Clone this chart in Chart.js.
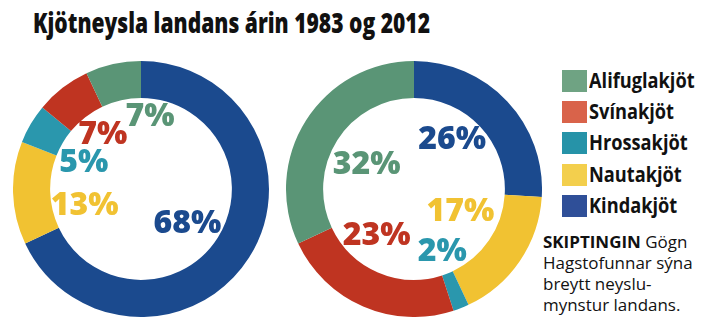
<!DOCTYPE html>
<html lang="is">
<head>
    <meta charset="UTF-8">
    <title>Kjötneysla landans árin 1983 og 2012</title>
    <script src="https://cdn.jsdelivr.net/npm/chart.js"></script>
    <style>
        html, body { margin: 0; padding: 0; background: #fff; }
        body { width: 713px; height: 334px; position: relative; overflow: hidden; font-family: "Open Sans", sans-serif; color: #111; }
        .fit { position: absolute; white-space: nowrap; transform-origin: 0 0; }
        #title { left: 33px; top: 8px; font-size: 28px; line-height: 28px; font-weight: 800; }
        .chart-box { position: absolute; top: 61px; width: 256px; height: 256px; }
        #chart1983 { left: 13px; }
        #chart2012 { left: 286px; }
        .legend-item { position: absolute; left: 562px; height: 22px; }
        .legend-item .swatch { position: absolute; left: 0; top: 0; width: 25px; height: 22px; }
        .legend-item .label { left: 27px; top: -6px; font-size: 22px; line-height: 30px; font-weight: 700; }
        #note { left: 543px; top: 232px; font-size: 15.5px; line-height: 21px; }
        #note b { font-weight: 700; }
    </style>
</head>
<body>
    <div id="title" class="fit">Kjötneysla landans árin 1983 og 2012</div>

    <canvas id="chart1983" class="chart-box" width="256" height="256"></canvas>
    <canvas id="chart2012" class="chart-box" width="256" height="256"></canvas>

    <div id="legend"></div>

    <div id="note" class="fit"><b>SKIPTINGIN</b> Gögn<br>Hagstofunnar sýna<br>breytt neyslu-<br>mynstur landans.</div>

    <script>
    // Flokkar í sömu röð og sneiðarnar, réttsælis frá toppi
    const categories = ['Kindakjöt', 'Nautakjöt', 'Hrossakjöt', 'Svínakjöt', 'Alifuglakjöt'];
    const share1983 = [68, 13, 5, 7, 7];
    const share2012 = [26, 17, 2, 23, 32];

    const sliceColors = ['#1b4a8e', '#f1c232', '#2a97ad', '#bf3421', '#5a9576'];
    const legendColors = ['#2f4f98', '#f3cf4d', '#2693a8', '#d9634a', '#6fa383'];

    // Staðsetning prósentutalna miðað við miðju, í einingum innri radíuss
    const labelPos1983 = [[0.51, 0.36], [-0.62, 0.16], [-0.63, -0.31], [-0.42, -0.62], [0.10, -0.82]];
    const labelPos2012 = [[0.42, -0.57], [0.51, 0.23], [0.31, 0.67], [-0.41, 0.49], [-0.52, -0.29]];

    // Teiknar prósentutölurnar inni í hringnum
    const pctLabels = {
        id: 'pctLabels',
        afterDraw(chart, args, opts) {
            const arc = chart.getDatasetMeta(0).data[0];
            const r = arc.innerRadius;
            const ctx = chart.ctx;
            ctx.save();
            ctx.font = '800 32px "Open Sans"';
            ctx.textAlign = 'center';
            ctx.textBaseline = 'alphabetic';
            chart.data.datasets[0].data.forEach((v, i) => {
                const p = opts.positions[i];
                ctx.fillStyle = sliceColors[i];
                ctx.fillText(v + '%', arc.x + p[0] * r, arc.y + p[1] * r + 11.5);
            });
            ctx.restore();
        }
    };

    function makeDonut(id, values, positions) {
        return new Chart(document.getElementById(id), {
            type: 'doughnut',
            data: {
                labels: categories,
                datasets: [{
                    data: values,
                    backgroundColor: sliceColors,
                    borderWidth: 0
                }]
            },
            options: {
                responsive: false,
                animation: false,
                devicePixelRatio: 1,
                cutout: '71%',
                layout: { padding: 0 },
                plugins: {
                    legend: { display: false },
                    tooltip: { enabled: false },
                    pctLabels: { positions: positions }
                }
            },
            plugins: [pctLabels]
        });
    }

    // Skýringar, sama röð og í blaðinu (alifuglar efst)
    function buildLegend() {
        const legend = document.getElementById('legend');
        const order = [4, 3, 2, 1, 0];
        order.forEach((idx, row) => {
            const item = document.createElement('div');
            item.className = 'legend-item';
            item.style.top = (70 + row * 31.2) + 'px';
            item.innerHTML = '<div class="swatch" style="background:' + legendColors[idx] + '"></div>' +
                '<div class="label fit">' + categories[idx] + '</div>';
            legend.appendChild(item);
        });
    }

    // Þjappar texta lárétt svo hann nái tiltekinni breidd
    function squeeze(el, width) {
        const s = width / el.offsetWidth;
        el.style.transform = 'scaleX(' + s + ')';
        return s;
    }

    function squeezeAll(els, refEl, width) {
        const s = width / refEl.offsetWidth;
        els.forEach(el => el.style.transform = 'scaleX(' + s + ')');
    }

    buildLegend();
    squeeze(document.getElementById('title'), 397);
    const legendLabels = Array.from(document.querySelectorAll('.legend-item .label'));
    squeezeAll(legendLabels, legendLabels[0], 106);
    squeeze(document.getElementById('note'), 150);

    makeDonut('chart1983', share1983, labelPos1983);
    makeDonut('chart2012', share2012, labelPos2012);
    </script>
</body>
</html>
